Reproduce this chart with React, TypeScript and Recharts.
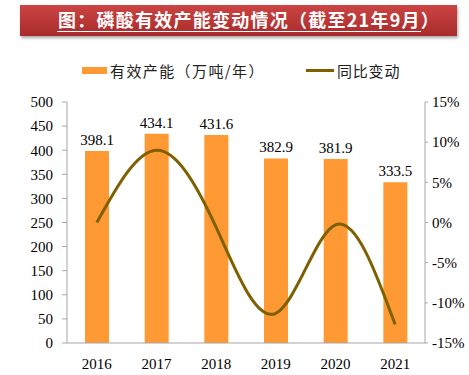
import {
  ComposedChart,
  XAxis,
  YAxis,
  Bar,
  Line,
  LabelList,
} from "recharts";

const years = ["2016", "2017", "2018", "2019", "2020", "2021"];
const capacity = [398.1, 434.1, 431.6, 382.9, 381.9, 333.5];
const yoyChange = [0, 9.0, -0.6, -11.3, -0.3, -12.7];
const leftTicks = [0, 50, 100, 150, 200, 250, 300, 350, 400, 450, 500];
const rightTicks = [-15, -10, -5, 0, 5, 10, 15];

const data = years.map((year, i) => ({
  year,
  capacity: capacity[i],
  yoy: yoyChange[i],
}));

const serif = "'Liberation Serif', 'Times New Roman', serif";
const cjk = "'Noto Sans CJK SC', sans-serif";
const barColor = "#FF9933";
const lineColor = "#7F6000";
const axisColor = "#A6A6A6";

const legendText = {
  fontFamily: cjk,
  fontSize: 15,
  color: "#222",
  whiteSpace: "nowrap" as const,
};

export default function App() {
  return (
    <div
      style={{
        position: "absolute",
        left: 0,
        top: 0,
        width: 469,
        height: 375,
        background: "#fff",
      }}
    >
      <div
        style={{
          position: "absolute",
          left: 20,
          top: 5,
          width: 437,
          height: 31,
          background: "linear-gradient(#cc4444, #a82b2b)",
          boxShadow: "1px 2px 3px rgba(0,0,0,0.35)",
        }}
      />
      <div
        style={{
          position: "absolute",
          left: 57,
          top: 9,
          width: 363,
          height: 22,
          borderBottom: "1px solid #fff",
          color: "#fff",
          fontFamily: cjk,
          fontWeight: 700,
          fontSize: 18,
          lineHeight: "20px",
          letterSpacing: 1.25,
          whiteSpace: "nowrap",
          paddingLeft: 1,
        }}
      >
        图：磷酸有效产能变动情况（截至21年9月）
      </div>

      {/* legend */}
      <div
        style={{
          position: "absolute",
          top: 60,
          left: 82,
          display: "flex",
          alignItems: "center",
          ...legendText,
          letterSpacing: 1.4,
        }}
      >
        <span
          style={{
            display: "inline-block",
            width: 25,
            height: 7,
            background: barColor,
            marginRight: 3,
          }}
        />
        有效产能（万吨/年）
      </div>
      <div
        style={{
          position: "absolute",
          top: 60,
          left: 306,
          display: "flex",
          alignItems: "center",
          ...legendText,
          letterSpacing: 0.8,
        }}
      >
        <span
          style={{
            display: "inline-block",
            width: 28,
            height: 3,
            background: lineColor,
            marginRight: 3,
          }}
        />
        同比变动
      </div>

      <div style={{ position: "absolute", left: 0, top: 0 }}>
        <ComposedChart
          width={469}
          height={375}
          data={data}
          margin={{ top: 102, right: 0, bottom: 2, left: 0 }}
        >
          <XAxis
            dataKey="year"
            height={30}
            axisLine={{ stroke: axisColor }}
            tickLine={false}
            tickMargin={9}
            tick={{ fill: "#000", fontSize: 15, fontFamily: serif }}
          />
          <YAxis
            yAxisId="left"
            width={67}
            domain={[0, 500]}
            ticks={leftTicks}
            interval={0}
            axisLine={{ stroke: axisColor }}
            tickLine={{ stroke: axisColor }}
            tickSize={5}
            tickMargin={9}
            tick={{ fill: "#000", fontSize: 15, fontFamily: serif }}
          />
          <YAxis
            yAxisId="right"
            orientation="right"
            width={44}
            domain={[-15, 15]}
            ticks={rightTicks}
            interval={0}
            tickFormatter={(v: number) => `${v}%`}
            axisLine={{ stroke: axisColor }}
            tickLine={{ stroke: axisColor }}
            tickSize={3}
            tickMargin={4}
            tick={{ fill: "#000", fontSize: 15, fontFamily: serif }}
          />
          <Bar
            yAxisId="left"
            dataKey="capacity"
            fill={barColor}
            barSize={24}
            isAnimationActive={false}
          >
            <LabelList
              dataKey="capacity"
              position="top"
              offset={6}
              style={{ fill: "#000", fontSize: 15, fontFamily: serif }}
            />
          </Bar>
          <Line
            yAxisId="right"
            type="natural"
            dataKey="yoy"
            stroke={lineColor}
            strokeWidth={3}
            dot={false}
            isAnimationActive={false}
          />
        </ComposedChart>
      </div>
    </div>
  );
}
